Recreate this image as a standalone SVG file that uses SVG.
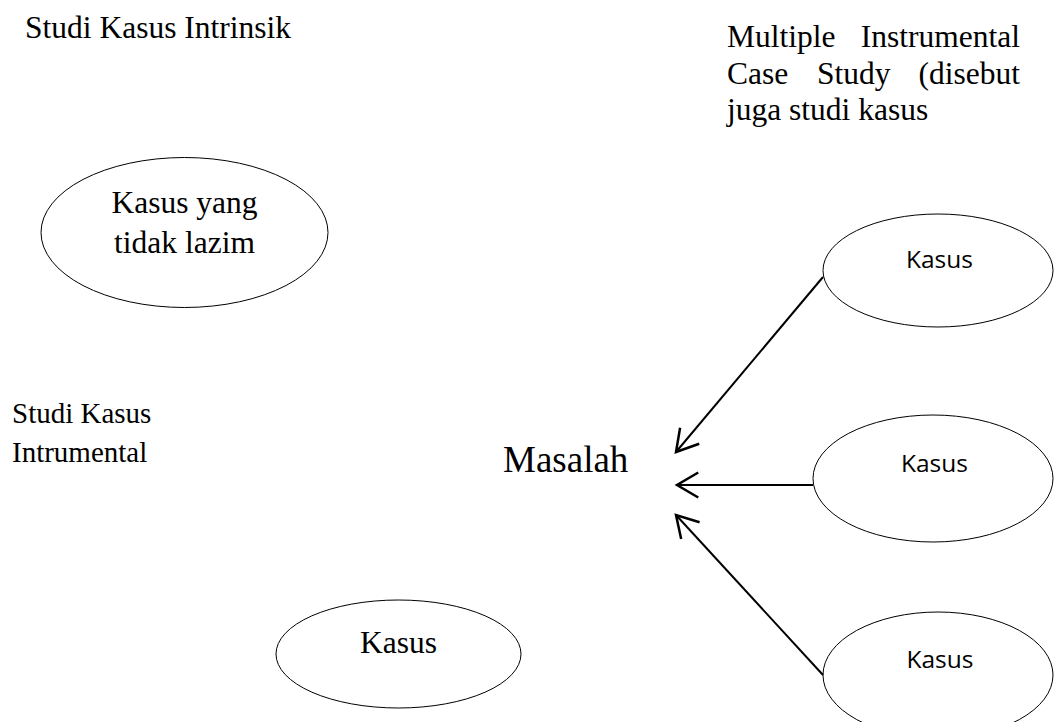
<svg xmlns="http://www.w3.org/2000/svg" width="1054" height="722" viewBox="0 0 1054 722">
<style>
.serif{font-family:"Liberation Serif","Times New Roman",serif;fill:#000}
.sans{font-family:"Open Sans","Noto Sans",sans-serif;fill:#000;font-size:24.5px}
.node{fill:#fff;stroke:#000;stroke-width:1}
.conn{fill:none;stroke:#000;stroke-width:2}
.end{text-anchor:end}
.mid{text-anchor:middle}
</style>
<defs>
<marker id="arrow" markerUnits="userSpaceOnUse" markerWidth="30" markerHeight="30" refX="0" refY="0" viewBox="-20 -12 24 24" orient="auto" overflow="visible">
<path d="M-17,-10 L0,0 L-17,10" fill="none" stroke="#000" stroke-width="2"/>
</marker>
</defs>
<rect width="1054" height="722" fill="#fff"/>
<g id="title-intrinsik">
<text class="serif" x="25" y="38" font-size="31.5">Studi Kasus Intrinsik</text>
</g>
<g id="title-multiple" class="serif" font-size="31.5">
<text x="727" y="47">Multiple</text>
<text class="end" x="1020" y="47">Instrumental</text>
<text x="727" y="83.5">Case</text>
<text x="817" y="83.5">Study</text>
<text class="end" x="1020" y="83.5">(disebut</text>
<text x="727" y="120">juga studi kasus</text>
</g>
<g id="node-tidak-lazim">
<ellipse class="node" cx="184.5" cy="232.5" rx="143.5" ry="75"/>
<text class="serif mid" x="184.5" y="213" font-size="31.5">Kasus yang</text>
<text class="serif mid" x="184.5" y="253" font-size="31.5">tidak lazim</text>
</g>
<g id="title-instrumental" class="serif" font-size="29">
<text x="12" y="423">Studi Kasus</text>
<text x="12" y="462">Intrumental</text>
</g>
<g id="node-masalah">
<text class="serif" x="503" y="472" font-size="37">Masalah</text>
</g>
<g id="node-kasus-bottom">
<ellipse class="node" cx="398.5" cy="654" rx="122.5" ry="54"/>
<text class="serif mid" x="398.5" y="653" font-size="31.5">Kasus</text>
</g>
<g id="node-kasus-1">
<ellipse class="node" cx="938" cy="270.5" rx="115" ry="56.5"/>
<text class="sans mid" x="939.5" y="268">Kasus</text>
</g>
<g id="node-kasus-2">
<ellipse class="node" cx="933" cy="478.5" rx="120" ry="63.5"/>
<text class="sans mid" x="934.5" y="472">Kasus</text>
</g>
<g id="node-kasus-3">
<ellipse class="node" cx="938" cy="675" rx="115" ry="63"/>
<text class="sans mid" x="940" y="668">Kasus</text>
</g>
<g id="connectors">
<path class="conn" d="M823,277 L676,452" marker-end="url(#arrow)"/>
<path class="conn" d="M813,485 L677,485" marker-end="url(#arrow)"/>
<path class="conn" d="M823,675 L676,515" marker-end="url(#arrow)"/>
</g>
</svg>
